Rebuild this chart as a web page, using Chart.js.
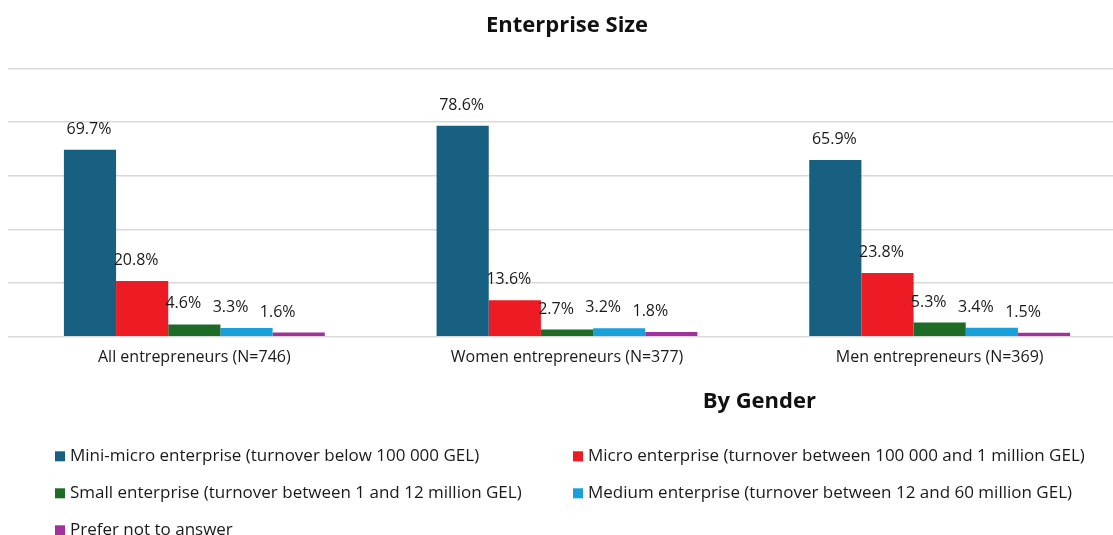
<!DOCTYPE html>
<html>
<head>
<meta charset="utf-8">
<script src="https://cdn.jsdelivr.net/npm/chart.js@4/dist/chart.umd.min.js"></script>
<style>
  html, body { margin: 0; padding: 0; background: #fff; overflow: hidden; }
  #wrap { width: 1128px; height: 535px; }
</style>
</head>
<body>
<div id="wrap"><canvas id="sizes"></canvas></div>
<script>
const categories = [
  'All entrepreneurs (N=746)',
  'Women entrepreneurs (N=377)',
  'Men entrepreneurs (N=369)'
];

const sizeLabels = [
  'Mini-micro enterprise (turnover below 100 000 GEL)',
  'Micro enterprise (turnover between 100 000 and 1 million GEL)',
  'Small enterprise (turnover between 1 and 12 million GEL)',
  'Medium enterprise (turnover between 12 and 60 million GEL)',
  'Prefer not to answer'
];

const miniMicro = [69.7, 78.6, 65.9];
const micro = [20.8, 13.6, 23.8];
const small = [4.6, 2.7, 5.3];
const medium = [3.3, 3.2, 3.4];
const noAnswer = [1.6, 1.8, 1.5];

const sizeColors = ['#176082', '#ED1C24', '#1D6B27', '#18A0DA', '#A2319B'];

const FONT = '"Open Sans", "Noto Sans", sans-serif';

// percentage above every bar
const barValues = {
  id: 'barValues',
  afterDatasetsDraw(chart) {
    const { ctx } = chart;
    ctx.save();
    ctx.font = '16px ' + FONT;
    ctx.fillStyle = '#1a1a1a';
    ctx.textAlign = 'center';
    ctx.textBaseline = 'alphabetic';
    chart.data.datasets.forEach((dataset, i) => {
      chart.getDatasetMeta(i).data.forEach((bar, j) => {
        ctx.fillText(dataset.data[j].toFixed(1) + '%', bar.x - 1 - 5 * i, bar.y - 16);
      });
    });
    ctx.restore();
  }
};

// axis caption + two-column legend under the categories
const bottomBlock = {
  id: 'bottomBlock',
  afterDraw(chart) {
    const { ctx, chartArea } = chart;
    const x = chart.scales.x;
    ctx.save();
    ctx.fillStyle = '#111';
    ctx.textAlign = 'center';
    ctx.textBaseline = 'middle';
    ctx.font = 'bold 22px ' + FONT;
    ctx.fillText('By Gender', x.getPixelForValue(1.5) + 6, chartArea.bottom + 65);

    ctx.font = '17px ' + FONT;
    ctx.textAlign = 'left';
    const cols = [chartArea.left + 47, (chartArea.left + chartArea.right) / 2 + 6];
    chart.data.datasets.forEach((dataset, i) => {
      const cx = cols[i % 2];
      const cy = chartArea.bottom + 119 + Math.floor(i / 2) * 37;
      ctx.fillStyle = dataset.backgroundColor;
      ctx.fillRect(cx, cy - 4.5, 10, 10);
      ctx.fillStyle = '#1a1a1a';
      ctx.fillText(dataset.label, cx + 15, cy);
    });
    ctx.restore();
  }
};

const seriesValues = [miniMicro, micro, small, medium, noAnswer];

new Chart('sizes', {
  type: 'bar',
  data: {
    labels: categories,
    datasets: seriesValues.map((values, i) => ({
      label: sizeLabels[i],
      data: values,
      backgroundColor: sizeColors[i],
      borderWidth: 0,
      barPercentage: 1,
      categoryPercentage: 0.7
    }))
  },
  options: {
    responsive: true,
    maintainAspectRatio: false,
    animation: false,
    layout: { padding: { left: 8, right: 2, bottom: 157 } },
    plugins: {
      legend: { display: false },
      tooltip: { enabled: false },
      title: {
        display: true,
        text: 'Enterprise Size',
        fullSize: false,
        color: '#111',
        font: { family: FONT, size: 22, weight: 'bold' },
        padding: { top: 13, bottom: 29 }
      }
    },
    scales: {
      x: {
        grid: { display: false, drawTicks: false },
        border: { display: false },
        ticks: { color: '#1a1a1a', padding: 11, font: { family: FONT, size: 16 } }
      },
      y: {
        min: 0,
        max: 100,
        ticks: { display: false, stepSize: 20 },
        border: { display: false },
        grid: { color: '#d9d9d9', lineWidth: 1.5, drawTicks: false }
      }
    }
  },
  plugins: [barValues, bottomBlock]
});
</script>
</body>
</html>
